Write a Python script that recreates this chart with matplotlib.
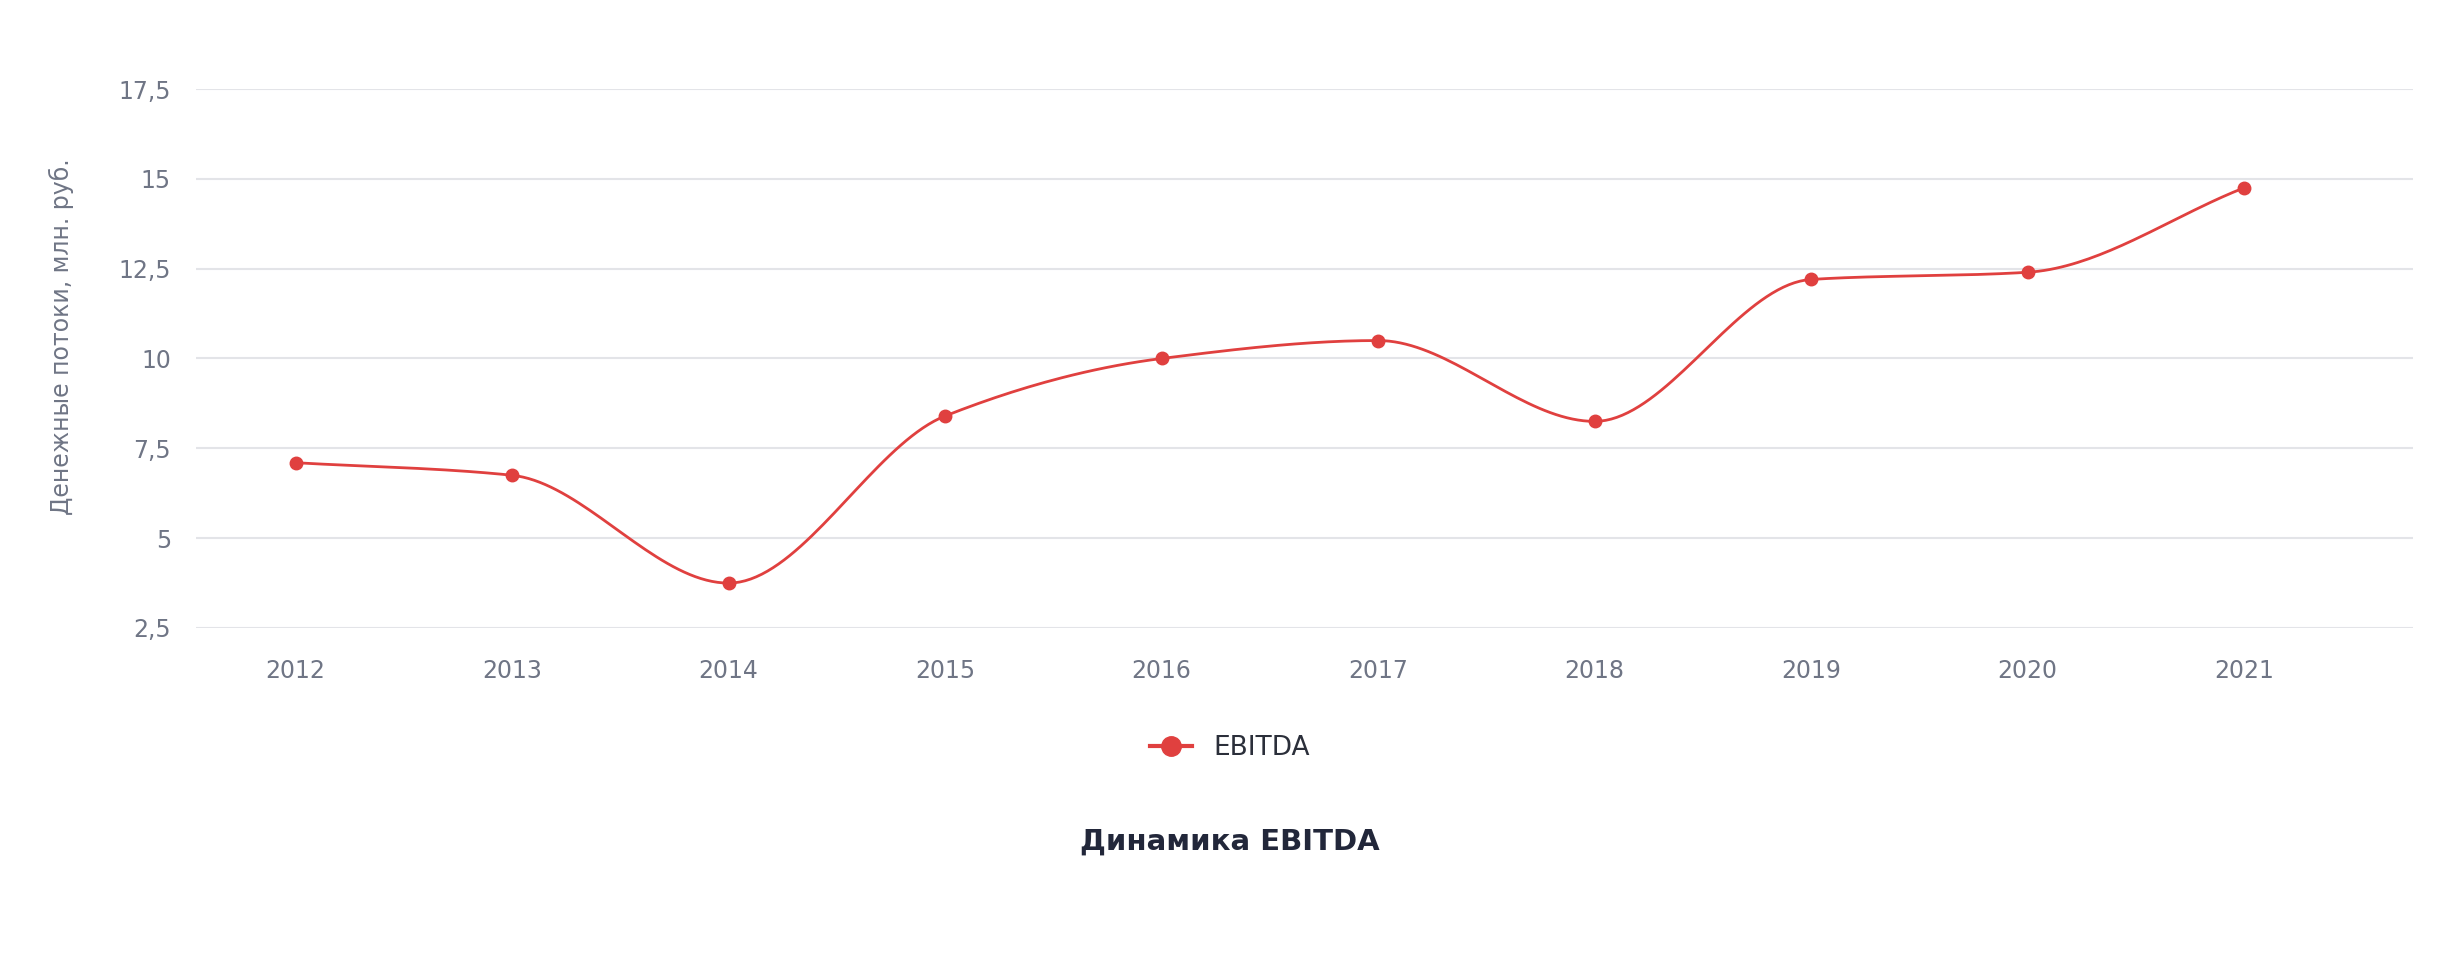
import numpy as np
import matplotlib
matplotlib.use("Agg")
import matplotlib.pyplot as plt
from matplotlib.lines import Line2D

years = ["2012","2013","2014","2015","2016","2017","2018","2019","2020","2021"]
ebitda = [7.1, 6.75, 3.75, 8.4, 10.0, 10.5, 8.25, 12.2, 12.4, 14.75]
yticks = [2.5, 5, 7.5, 10, 12.5, 15, 17.5]
ytick_labels = ["2,5", "5", "7,5", "10", "12,5", "15", "17,5"]

RED = "#e0403f"
GRID = "#e3e4e8"
TXT = "#6f7585"

def smooth(xs, ys, n=40):
    xs = np.asarray(xs, float); ys = np.asarray(ys, float)
    h = np.diff(xs); d = np.diff(ys) / h
    m = np.zeros_like(ys)
    m[0], m[-1] = d[0], d[-1]
    for i in range(1, len(ys) - 1):
        m[i] = 0 if d[i-1] * d[i] <= 0 else 2 / (1/d[i-1] + 1/d[i])
    X, Y = [], []
    for i in range(len(xs) - 1):
        t = np.linspace(0, 1, n)
        h00 = 2*t**3 - 3*t**2 + 1; h10 = t**3 - 2*t**2 + t
        h01 = -2*t**3 + 3*t**2; h11 = t**3 - t**2
        X.extend(xs[i] + t*h[i])
        Y.extend(h00*ys[i] + h10*h[i]*m[i] + h01*ys[i+1] + h11*h[i]*m[i+1])
    return X, Y

fig = plt.figure(figsize=(24.6, 9.57), dpi=100)
ax = fig.add_axes([196/2460, 1 - 628/957, (2413-196)/2460, (628-89)/957])
x = np.arange(len(years))
sx, sy = smooth(x, ebitda)
ax.plot(sx, sy, color=RED, lw=2, zorder=3)
ax.plot(x, ebitda, "o", color=RED, ms=9, zorder=4)

ax.set_xlim(-0.46, 9.78)
ax.set_ylim(2.5, 17.5)
ax.set_yticks(yticks)
ax.set_yticklabels(ytick_labels)
ax.set_xticks(x)
ax.set_xticklabels(years)
ax.grid(axis="y", color=GRID, lw=1.5)
ax.set_axisbelow(True)
for s in ax.spines.values():
    s.set_visible(False)
ax.tick_params(length=0, labelsize=17, colors=TXT, pad=18)
ax.tick_params(axis="x", pad=22)
ax.set_ylabel("Денежные потоки, млн. руб.", fontsize=17, color=TXT)
ax.yaxis.set_label_coords(-0.055, 0.54)

h = Line2D([0], [0], color=RED, lw=3, marker="o", ms=14)
fig.legend([h], ["EBITDA"], loc="center", bbox_to_anchor=(0.5, 1 - 748/957),
           frameon=False, fontsize=19, handlelength=1.6, labelcolor="#2b2f3a")
fig.text(0.5, 1 - 842/957, "Динамика EBITDA", ha="center", va="center",
         fontsize=21, fontweight="bold", color="#22273a")
fig.savefig("out.png", dpi=100, facecolor="white")
